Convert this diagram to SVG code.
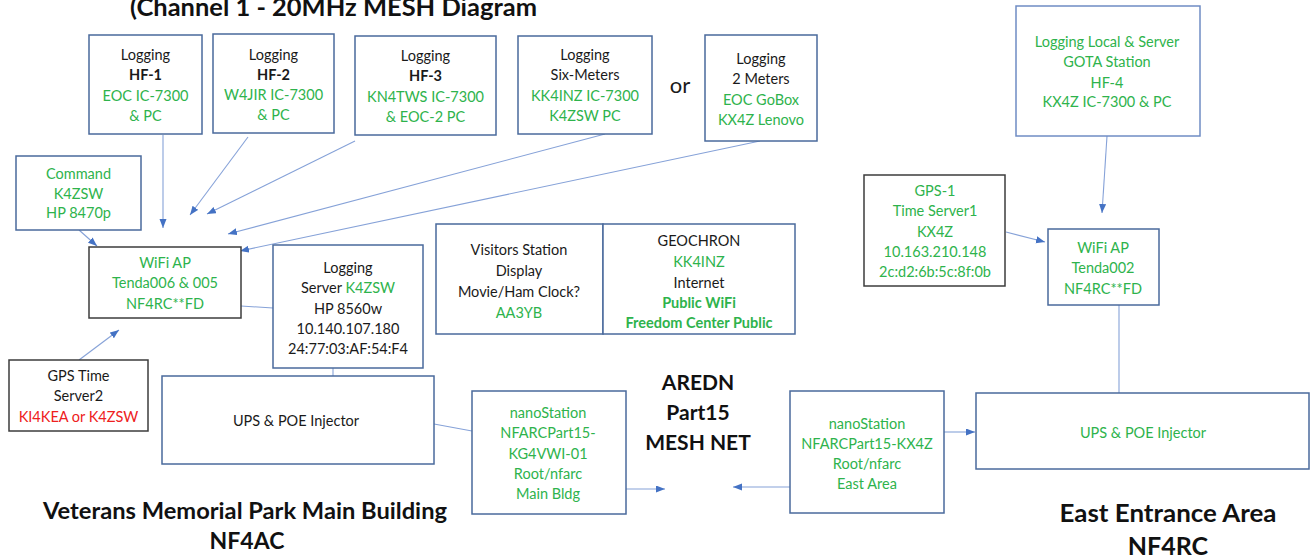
<svg xmlns="http://www.w3.org/2000/svg" width="1310" height="558" viewBox="0 0 1310 558">
<style>
.box{fill:#fff;stroke:#4a6a9c;stroke-width:1.5}
.dark{stroke:#3c3c3c}
.lt{stroke:#6f8cc4}
text{font-family:Lato,"Liberation Sans",sans-serif;font-size:14.5px;text-anchor:middle;fill:#1a1a1a}
.g{fill:#2eb34c}
.r{fill:#ee2020}
.b{font-weight:bold}
.big{font-size:21px;font-weight:bold;fill:#111}
.conn line{stroke:#86a2d8;stroke-width:1.1;fill:none}
</style>
<defs>
<marker id="ah" markerUnits="userSpaceOnUse" markerWidth="10" markerHeight="8" refX="9" refY="3.5" orient="auto">
<path d="M0,0 L9,3.5 L0,7 z" fill="#4472c4"/>
</marker>
</defs>
<rect width="1310" height="558" fill="#fff"/>
<text x="130" y="16" textLength="407" lengthAdjust="spacingAndGlyphs" style="text-anchor:start;font-size:24px;font-weight:bold;fill:#111">(Channel 1 - 20MHz MESH Diagram</text>
<text x="680" y="93" style="font-size:22px">or</text>

<g class="conn">
<line x1="163" y1="135" x2="163" y2="228" marker-end="url(#ah)"/>
<line x1="248" y1="137" x2="190" y2="215" marker-end="url(#ah)"/>
<line x1="355" y1="141" x2="207" y2="214" marker-end="url(#ah)"/>
<line x1="605" y1="134" x2="228" y2="234" marker-end="url(#ah)"/>
<line x1="760" y1="141" x2="240" y2="251" marker-end="url(#ah)"/>
<line x1="79" y1="230" x2="97" y2="246" marker-end="url(#ah)"/>
<line x1="79" y1="360" x2="119" y2="330" marker-end="url(#ah)"/>
<line x1="241" y1="306" x2="273" y2="308"/>
<line x1="333" y1="368" x2="333" y2="376"/>
<line x1="434" y1="424" x2="472" y2="431"/>
<line x1="626" y1="489" x2="665" y2="489" marker-end="url(#ah)"/>
<line x1="790" y1="487" x2="733" y2="487" marker-end="url(#ah)"/>
<line x1="944" y1="432" x2="975" y2="432" marker-end="url(#ah)"/>
<line x1="1119" y1="305" x2="1119" y2="393"/>
<line x1="1107" y1="136" x2="1102" y2="213" marker-end="url(#ah)"/>
<line x1="1006" y1="232" x2="1045" y2="242" marker-end="url(#ah)"/>
</g>

<g id="hf1"><rect class="box" x="89" y="35" width="113" height="99"/>
<text x="145.5" y="60">Logging</text><text x="145.5" y="80" class="b">HF-1</text><text x="145.5" y="101" class="g">EOC IC-7300</text><text x="145.5" y="121" class="g">&amp; PC</text></g>
<g id="hf2"><rect class="box" x="213" y="34" width="121" height="99"/>
<text x="273.5" y="60">Logging</text><text x="273.5" y="80" class="b">HF-2</text><text x="273.5" y="100" class="g">W4JIR IC-7300</text><text x="273.5" y="120" class="g">&amp; PC</text></g>
<g id="hf3"><rect class="box" x="355" y="36" width="141" height="99"/>
<text x="425.5" y="61">Logging</text><text x="425.5" y="81" class="b">HF-3</text><text x="425.5" y="102" class="g">KN4TWS IC-7300</text><text x="425.5" y="122" class="g">&amp; EOC-2 PC</text></g>
<g id="six"><rect class="box" x="518" y="36" width="134" height="98"/>
<text x="585" y="60">Logging</text><text x="585" y="80">Six-Meters</text><text x="585" y="101" class="g">KK4INZ IC-7300</text><text x="585" y="121" class="g">K4ZSW PC</text></g>
<g id="twom"><rect class="box" x="705" y="35" width="112" height="106"/>
<text x="761" y="64">Logging</text><text x="761" y="84">2 Meters</text><text x="761" y="105" class="g">EOC GoBox</text><text x="761" y="125" class="g">KX4Z Lenovo</text></g>
<g id="command"><rect class="box" x="16" y="156" width="125" height="74"/>
<text x="78.5" y="179" class="g">Command</text><text x="78.5" y="199" class="g">K4ZSW</text><text x="78.5" y="218" class="g">HP 8470p</text></g>
<g id="wifi-left"><rect class="box dark" x="89" y="247" width="152" height="71"/>
<text x="165" y="268" class="g">WiFi AP</text><text x="165" y="288" class="g">Tenda006 &amp; 005</text><text x="165" y="309" class="g">NF4RC**FD</text></g>
<g id="log-server"><rect class="box" x="273" y="245" width="150" height="123"/>
<text x="348" y="273">Logging</text><text x="348" y="293">Server <tspan class="g">K4ZSW</tspan></text><text x="348" y="314">HP 8560w</text><text x="348" y="334">10.140.107.180</text><text x="348" y="354">24:77:03:AF:54:F4</text></g>
<g id="gps2"><rect class="box dark" x="9" y="360" width="139" height="71"/>
<text x="78.5" y="381">GPS Time</text><text x="78.5" y="401">Server2</text><text x="78.5" y="422" class="r">KI4KEA or K4ZSW</text></g>
<g id="ups-left"><rect class="box" x="162" y="376" width="272" height="88"/>
<text x="296" y="426">UPS &amp; POE Injector</text></g>
<g id="visitors"><rect class="box" x="436" y="224" width="167" height="110"/>
<text x="519" y="255">Visitors Station</text><text x="519" y="276">Display</text><text x="519" y="297">Movie/Ham Clock?</text><text x="519" y="318" class="g">AA3YB</text></g>
<g id="geochron"><rect class="box" x="603" y="224" width="192" height="110"/>
<text x="699" y="246">GEOCHRON</text><text x="699" y="267" class="g">KK4INZ</text><text x="699" y="288">Internet</text><text x="699" y="308" class="g b">Public WiFi</text><text x="699" y="328" class="g b">Freedom Center Public</text></g>
<g id="nano-main"><rect class="box" x="472" y="391" width="154" height="123"/>
<text x="548" y="418" class="g">nanoStation</text><text x="548" y="438" class="g">NFARCPart15-</text><text x="548" y="459" class="g">KG4VWI-01</text><text x="548" y="479" class="g">Root/nfarc</text><text x="548" y="499" class="g">Main Bldg</text></g>
<g id="aredn">
<text x="698" y="390" class="big">AREDN</text><text x="698" y="420" class="big">Part15</text><text x="698" y="450" class="big">MESH NET</text></g>
<g id="nano-east"><rect class="box" x="790" y="391" width="154" height="122"/>
<text x="867" y="429" class="g">nanoStation</text><text x="867" y="449" class="g">NFARCPart15-KX4Z</text><text x="867" y="469" class="g">Root/nfarc</text><text x="867" y="489" class="g">East Area</text></g>
<g id="ups-right"><rect class="box" x="976" y="393" width="333" height="76"/>
<text x="1143" y="438" class="g">UPS &amp; POE Injector</text></g>
<g id="log-local"><rect class="box lt" x="1016" y="6" width="184" height="130"/>
<text x="1107" y="47" class="g">Logging Local &amp; Server</text><text x="1107" y="67" class="g">GOTA Station</text><text x="1107" y="88" class="g">HF-4</text><text x="1107" y="107" class="g">KX4Z IC-7300 &amp; PC</text></g>
<g id="gps1"><rect class="box dark" x="864" y="175" width="141" height="111"/>
<text x="935" y="196" class="g">GPS-1</text><text x="935" y="216" class="g">Time Server1</text><text x="935" y="237" class="g">KX4Z</text><text x="935" y="257" class="g">10.163.210.148</text><text x="935" y="277" class="g">2c:d2:6b:5c:8f:0b</text></g>
<g id="wifi-right"><rect class="box" x="1048" y="229" width="111" height="76"/>
<text x="1103" y="253" class="g">WiFi AP</text><text x="1103" y="273" class="g">Tenda002</text><text x="1103" y="294" class="g">NF4RC**FD</text></g>
<g id="labels">
<text x="245" y="519" class="big" style="font-size:22px" textLength="404" lengthAdjust="spacingAndGlyphs">Veterans Memorial Park Main Building</text>
<text x="247" y="549" class="big" style="font-size:23px">NF4AC</text>
<text x="1168" y="522" class="big" style="font-size:25px" textLength="217" lengthAdjust="spacingAndGlyphs">East Entrance Area</text>
<text x="1168" y="555" class="big" style="font-size:25px">NF4RC</text>
</g>
</svg>
